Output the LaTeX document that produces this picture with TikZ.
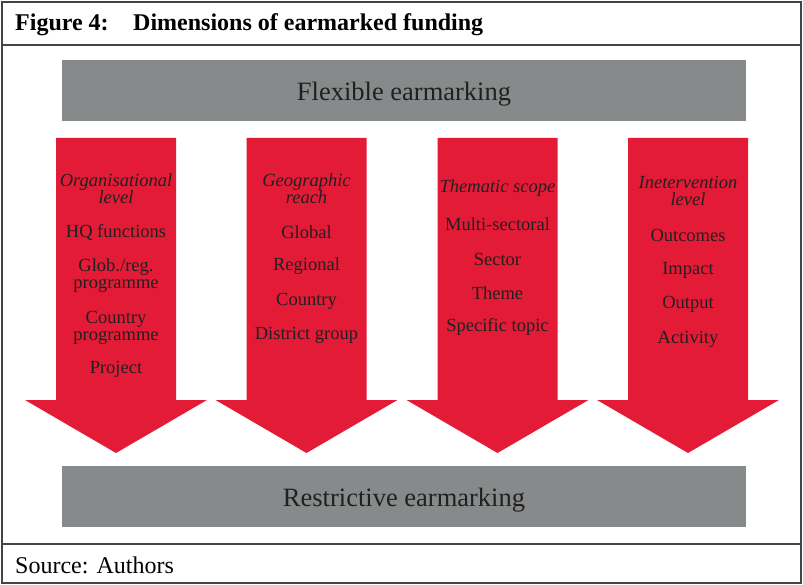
\documentclass[tikz,border=0pt]{standalone}
\usepackage{fontspec}
\setmainfont{Liberation Serif}
\definecolor{ered}{HTML}{E31B37}
\definecolor{egray}{HTML}{878A8A}
\definecolor{etext}{HTML}{231F20}
\definecolor{eframe}{HTML}{444444}
\newcommand\earrow[1]{%
  \fill[ered] (#1-60,138) -- (#1+60,138) -- (#1+60,400) -- (#1+91,400) -- (#1,453) -- (#1-91,400) -- (#1-60,400) -- cycle;}
\begin{document}
\begin{tikzpicture}[x=1pt,y=-1pt,
  item/.style={inner sep=0pt,align=center,text=etext,yshift=-1.5pt,font=\fontsize{18.5}{17}\selectfont},
  head/.style={item,font=\fontsize{18.5}{17}\selectfont\itshape},
  bartext/.style={inner sep=0pt,text=etext,yshift=-4pt,font=\fontsize{26.5}{30}\selectfont},
  bar/.style={fill=egray,draw=none,minimum width=684pt,minimum height=61pt,inner sep=0pt}]
\useasboundingbox (0,0) rectangle (803,585);
\fill[white] (0,0) rectangle (803,585);
% frame
\draw[eframe,line width=1.5pt] (2,2) rectangle (801,583);
\draw[eframe,line width=1.5pt] (2,45) -- (801,45);
\draw[eframe,line width=1.5pt] (2,544) -- (801,544);
\node[anchor=west,inner sep=0pt,font=\fontsize{24}{28}\selectfont\bfseries] (title) at (15,25) {Figure 4:};
\node[anchor=west,inner sep=0pt,font=\fontsize{24}{28}\selectfont\bfseries] (titletext) at (133,25) {Dimensions of earmarked funding};
\node[anchor=west,inner sep=0pt,font=\fontsize{24}{28}\selectfont] (source) at (15,565) {Source: Authors};
% bars
\node[bar] (topbar) at (404,90.5) {};
\node[bartext] (flex) at (topbar) {Flexible earmarking};
\node[bar] (botbar) at (404,496.5) {};
\node[bartext] (restr) at (botbar) {Restrictive earmarking};
% arrows
\earrow{116}
\earrow{306.5}
\earrow{497.5}
\earrow{688}
% arrow 1
\node[head] (a1h) at (116,187) {Organisational\\level};
\node[item] (a1a) at (116,231) {HQ functions};
\node[item] (a1b) at (116,274) {Glob./reg.\\programme};
\node[item] (a1c) at (116,326) {Country\\programme};
\node[item] (a1d) at (116,368) {Project};
% arrow 2
\node[head] (a2h) at (306.5,187) {Geographic\\reach};
\node[item] (a2a) at (306.5,231) {Global};
\node[item] (a2b) at (306.5,265) {Regional};
\node[item] (a2c) at (306.5,300) {Country};
\node[item] (a2d) at (306.5,334) {District group};
% arrow 3
\node[head] (a3h) at (497.5,187) {Thematic scope};
\node[item] (a3a) at (497.5,223) {Multi-sectoral};
\node[item] (a3b) at (497.5,258) {Sector};
\node[item] (a3c) at (497.5,292) {Theme};
\node[item] (a3d) at (497.5,325) {Specific topic};
% arrow 4
\node[head] (a4h) at (688,189.5) {Inetervention\\level};
\node[item] (a4a) at (688,234) {Outcomes};
\node[item] (a4b) at (688,269) {Impact};
\node[item] (a4c) at (688,303) {Output};
\node[item] (a4d) at (688,338) {Activity};
\end{tikzpicture}
\end{document}
